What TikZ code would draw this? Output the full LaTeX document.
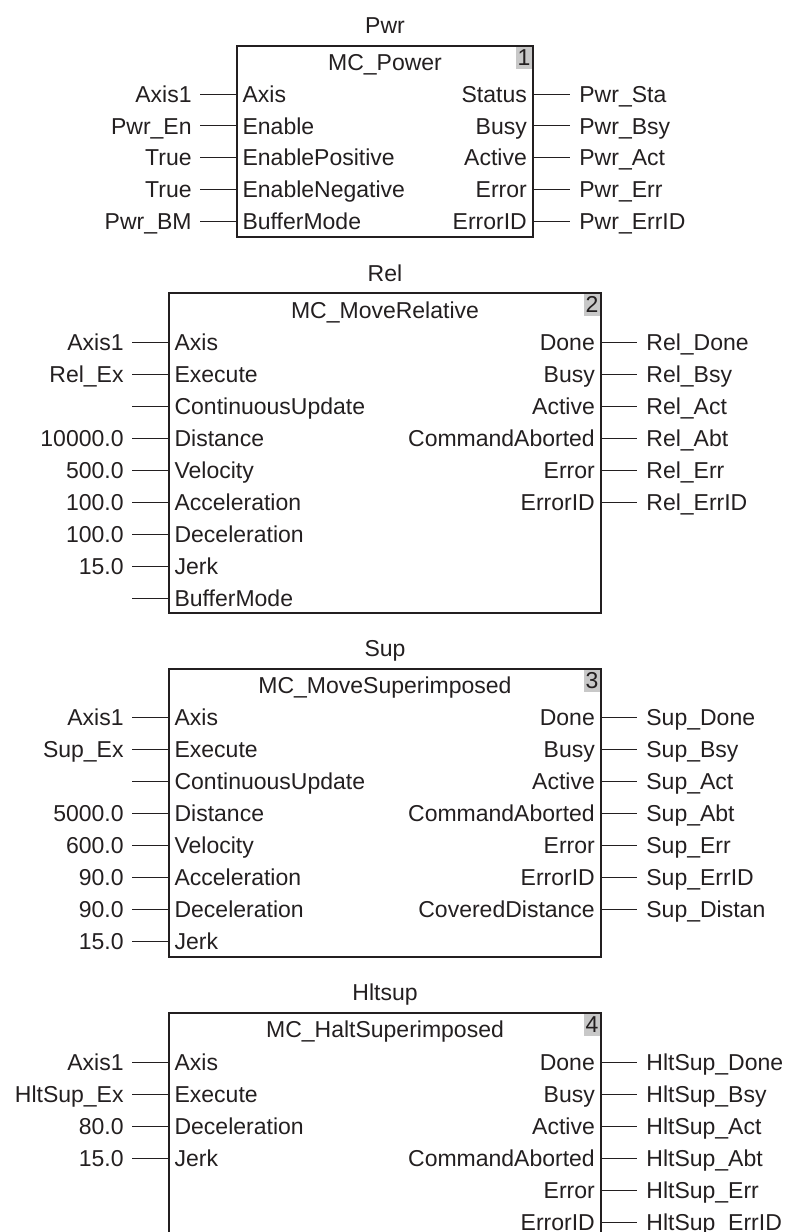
\documentclass[tikz,border=0pt]{standalone}
\usepackage{fontspec}
\setmainfont{Liberation Sans}
\definecolor{ink}{HTML}{231F20}
\definecolor{tagfill}{HTML}{C8C8C8}
\tikzset{
  lbl/.style={text=ink, inner ysep=0pt, text height=8.2pt, text depth=0pt},
  fbbox/.style={draw=ink, line width=0.7pt},
  wire/.style={draw=ink, line width=0.5pt},
  pinin/.style={lbl, anchor=west, inner xsep=2.6pt},
  pinout/.style={lbl, anchor=east, inner xsep=2.9pt},
  argin/.style={lbl, anchor=east, inner xsep=4pt},
  argout/.style={lbl, anchor=west, inner xsep=4.5pt},
  tagbox/.style={fill=tagfill, anchor=north east, inner sep=0pt, minimum width=8.5pt, minimum height=11.5pt, text=ink},
}
\begin{document}
\begin{tikzpicture}[x=0.5pt, y=-0.5pt, font=\fontsize{11.5}{13}\selectfont]
\useasboundingbox (0,0) rectangle (787,1232);

% Pwr
\node[lbl] (pwrT) at (385,25) {Pwr};
\node[tagbox] (pwrNo) at (533,46) {1};
\draw[fbbox] (237,46) rectangle (533,237);
\node[lbl] (pwrN) at (385,62) {MC\_Power};
\foreach \pin/\arg [count=\i] in {Axis/Axis1, Enable/Pwr\_En, EnablePositive/True, EnableNegative/True, BufferMode/Pwr\_BM} {
  \pgfmathsetmacro\y{62.2+31.8*\i}
  \node[pinin] (pwrP\i) at (237,\y) {\pin};
  \node[argin] (pwrA\i) at (200,\y) {\arg};
  \draw[wire] (pwrA\i) -- (pwrP\i);
}
\foreach \pin/\arg [count=\i] in {Status/Pwr\_Sta, Busy/Pwr\_Bsy, Active/Pwr\_Act, Error/Pwr\_Err, ErrorID/Pwr\_ErrID} {
  \pgfmathsetmacro\y{62.2+31.8*\i}
  \node[pinout] (pwrQ\i) at (533,\y) {\pin};
  \node[argout] (pwrB\i) at (570,\y) {\arg};
  \draw[wire] (pwrQ\i) -- (pwrB\i);
}

% Rel
\node[lbl] (relT) at (385,273) {Rel};
\node[tagbox] (relNo) at (601,293) {2};
\draw[fbbox] (169,293) rectangle (601,613);
\node[lbl] (relN) at (385,310) {MC\_MoveRelative};
\foreach \pin/\arg [count=\i] in {Axis/Axis1, Execute/Rel\_Ex, ContinuousUpdate/{}, Distance/10000.0, Velocity/500.0, Acceleration/100.0, Deceleration/100.0, Jerk/15.0, BufferMode/{}} {
  \pgfmathsetmacro\y{310+32*\i}
  \node[pinin] (relP\i) at (169,\y) {\pin};
  \node[argin] (relA\i) at (132,\y) {\arg};
  \draw[wire] (relA\i) -- (relP\i);
}
\foreach \pin/\arg [count=\i] in {Done/Rel\_Done, Busy/Rel\_Bsy, Active/Rel\_Act, CommandAborted/Rel\_Abt, Error/Rel\_Err, ErrorID/Rel\_ErrID} {
  \pgfmathsetmacro\y{310+32*\i}
  \node[pinout] (relQ\i) at (601,\y) {\pin};
  \node[argout] (relB\i) at (637,\y) {\arg};
  \draw[wire] (relQ\i) -- (relB\i);
}

% Sup
\node[lbl] (supT) at (385,648) {Sup};
\node[tagbox] (supNo) at (601,669) {3};
\draw[fbbox] (169,669) rectangle (601,957);
\node[lbl] (supN) at (385,685) {MC\_MoveSuperimposed};
\foreach \pin/\arg [count=\i] in {Axis/Axis1, Execute/Sup\_Ex, ContinuousUpdate/{}, Distance/5000.0, Velocity/600.0, Acceleration/90.0, Deceleration/90.0, Jerk/15.0} {
  \pgfmathsetmacro\y{685+32*\i}
  \node[pinin] (supP\i) at (169,\y) {\pin};
  \node[argin] (supA\i) at (132,\y) {\arg};
  \draw[wire] (supA\i) -- (supP\i);
}
\foreach \pin/\arg [count=\i] in {Done/Sup\_Done, Busy/Sup\_Bsy, Active/Sup\_Act, CommandAborted/Sup\_Abt, Error/Sup\_Err, ErrorID/Sup\_ErrID, CoveredDistance/Sup\_Distan} {
  \pgfmathsetmacro\y{685+32*\i}
  \node[pinout] (supQ\i) at (601,\y) {\pin};
  \node[argout] (supB\i) at (637,\y) {\arg};
  \draw[wire] (supQ\i) -- (supB\i);
}

% Hltsup (box runs off the bottom)
\node[lbl] (hltT) at (385,992) {Hltsup};
\node[tagbox] (hltNo) at (601,1013) {4};
\draw[fbbox] (169,1240) -- (169,1013) -- (601,1013) -- (601,1240);
\node[lbl] (hltN) at (385,1029) {MC\_HaltSuperimposed};
\foreach \pin/\arg [count=\i] in {Axis/Axis1, Execute/HltSup\_Ex, Deceleration/80.0, Jerk/15.0} {
  \pgfmathsetmacro\y{1030+32*\i}
  \node[pinin] (hltP\i) at (169,\y) {\pin};
  \node[argin] (hltA\i) at (132,\y) {\arg};
  \draw[wire] (hltA\i) -- (hltP\i);
}
\foreach \pin/\arg [count=\i] in {Done/HltSup\_Done, Busy/HltSup\_Bsy, Active/HltSup\_Act, CommandAborted/HltSup\_Abt, Error/HltSup\_Err, ErrorID/HltSup\_ErrID} {
  \pgfmathsetmacro\y{1030+32*\i}
  \node[pinout] (hltQ\i) at (601,\y) {\pin};
  \node[argout] (hltB\i) at (637,\y) {\arg};
  \draw[wire] (hltQ\i) -- (hltB\i);
}
\end{tikzpicture}
\end{document}
